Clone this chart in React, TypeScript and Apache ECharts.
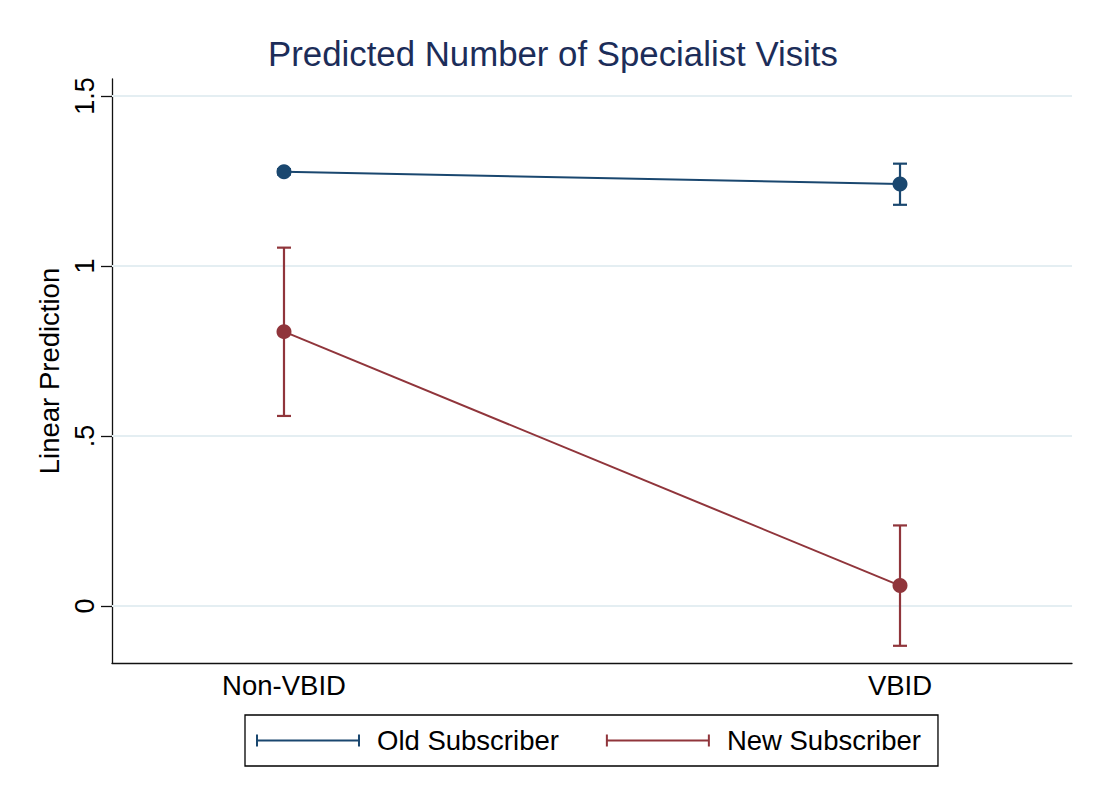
import React, { useEffect, useRef } from "react";
import * as echarts from "echarts";

// Categories on the x axis (placed at positions 0 and 1 of a value axis)
const categories = ["Non-VBID", "VBID"];
const categoryPositions = [0, 1];

// Predicted values and 95% confidence limits
const oldSubscriber = [1.277, 1.241];
const oldLower = [1.269, 1.180];
const oldUpper = [1.285, 1.301];

const newSubscriber = [0.807, 0.060];
const newLower = [0.559, -0.117];
const newUpper = [1.054, 0.237];

// Y axis ticks and their labels
const yTicks = [0, 0.5, 1, 1.5];
const yTickLabels = ["0", ".5", "1", "1.5"];

const NAVY = "#1a476f";
const MAROON = "#90353b";
const FONT = "'Liberation Sans', Arial, Helvetica, sans-serif";

// Legend key: a horizontal bar with end caps (plus an invisible point for spacing)
const ERRBAR_ICON =
  "path://M0,0h2v12h-2z M0,5h104v2h-104z M102,0h2v12h-2z M116,5.9h0.01v0.01h-0.01z";

function errorBarRender(params: any, api: any) {
  const x = api.value(0);
  const lo = api.value(1);
  const hi = api.value(2);
  const top = api.coord([x, hi]);
  const bottom = api.coord([x, lo]);
  const half = 7;
  const style = { stroke: api.visual("color"), lineWidth: 2.2 };
  return {
    type: "group",
    children: [
      { type: "line", shape: { x1: top[0], y1: top[1], x2: bottom[0], y2: bottom[1] }, style },
      { type: "line", shape: { x1: top[0] - half, y1: top[1], x2: top[0] + half, y2: top[1] }, style },
      { type: "line", shape: { x1: bottom[0] - half, y1: bottom[1], x2: bottom[0] + half, y2: bottom[1] }, style },
    ],
  };
}

export default function App() {
  const ref = useRef<HTMLDivElement>(null);

  useEffect(() => {
    document.body.style.margin = "0";
    if (!ref.current) return;
    const chart = echarts.init(ref.current, undefined, { renderer: "svg" });

    const pairs = (ys: number[]) => categoryPositions.map((x, i) => [x, ys[i]]);
    const bars = (lo: number[], hi: number[]) =>
      categoryPositions.map((x, i) => [x, lo[i], hi[i]]);

    chart.setOption({
      animation: false,
      backgroundColor: "#ffffff",
      textStyle: { fontFamily: FONT },
      title: {
        text: "Predicted Number of Specialist Visits",
        left: 268,
        top: 36,
        padding: 0,
        textStyle: { fontFamily: FONT, fontSize: 34.8, fontWeight: "normal", color: "#1c2d59" },
      },
      grid: { left: 112, right: 23, top: 79, bottom: 139, containLabel: false },
      xAxis: {
        type: "value",
        min: -0.2792,
        max: 1.2792,
        axisLine: { show: true, onZero: false, lineStyle: { color: "#111111", width: 1.3 } },
        axisTick: { show: false },
        splitLine: { show: false },
        axisLabel: {
          customValues: categoryPositions,
          formatter: (v: number) => categories[Math.round(v)] ?? "",
          fontFamily: FONT,
          fontSize: 27.5,
          color: "#000000",
          margin: 8,
        },
      },
      yAxis: {
        type: "value",
        min: -0.1676,
        max: 1.55,
        name: "Linear Prediction",
        nameLocation: "middle",
        nameRotate: 90,
        nameGap: 45,
        nameTextStyle: { fontFamily: FONT, fontSize: 27.5, color: "#000000" },
        axisLine: { show: true, onZero: false, lineStyle: { color: "#111111", width: 1.3 } },
        axisTick: { show: true, customValues: yTicks, length: 11, lineStyle: { color: "#111111", width: 1.3 } },
        splitLine: { show: false },
        axisLabel: {
          customValues: yTicks,
          rotate: 90,
          formatter: (v: number) => {
            const i = yTicks.findIndex((t) => Math.abs(t - v) < 1e-9);
            return i >= 0 ? yTickLabels[i] : "";
          },
          fontFamily: FONT,
          fontSize: 27,
          color: "#000000",
          margin: 14,
        },
      },
      legend: {
        data: [
          { name: "Old Subscriber", icon: ERRBAR_ICON },
          { name: "New Subscriber", icon: ERRBAR_ICON },
        ],
        left: 245,
        top: 715,
        orient: "horizontal",
        itemWidth: 116,
        itemHeight: 12,
        itemGap: 47,
        padding: [11.5, 17, 11.5, 11],
        borderColor: "#000000",
        borderWidth: 1.3,
        borderRadius: 0,
        backgroundColor: "#ffffff",
        selectedMode: false,
        textStyle: { fontFamily: FONT, fontSize: 27.5, color: "#000000" },
      },
      series: [
        {
          name: "Old Subscriber",
          type: "line",
          data: pairs(oldSubscriber),
          color: NAVY,
          symbol: "circle",
          symbolSize: 15,
          lineStyle: { color: NAVY, width: 2 },
          itemStyle: { color: NAVY },
          z: 3,
          markLine: {
            silent: true,
            symbol: "none",
            label: { show: false },
            lineStyle: { color: "#e4eef2", width: 1.8, type: "solid" },
            emphasis: { disabled: true },
            data: yTicks.map((v) => ({ yAxis: v })),
            z: 1,
          },
        },
        {
          name: "New Subscriber",
          type: "line",
          data: pairs(newSubscriber),
          color: MAROON,
          symbol: "circle",
          symbolSize: 15,
          lineStyle: { color: MAROON, width: 2 },
          itemStyle: { color: MAROON },
          z: 3,
        },
        {
          name: "Old Subscriber CI",
          type: "custom",
          renderItem: errorBarRender,
          data: bars(oldLower, oldUpper),
          itemStyle: { color: NAVY },
          encode: { x: 0, y: [1, 2] },
          z: 2,
        },
        {
          name: "New Subscriber CI",
          type: "custom",
          renderItem: errorBarRender,
          data: bars(newLower, newUpper),
          itemStyle: { color: MAROON },
          encode: { x: 0, y: [1, 2] },
          z: 2,
        },
      ],
    });

    return () => chart.dispose();
  }, []);

  return <div ref={ref} style={{ width: 1095, height: 802 }} />;
}
